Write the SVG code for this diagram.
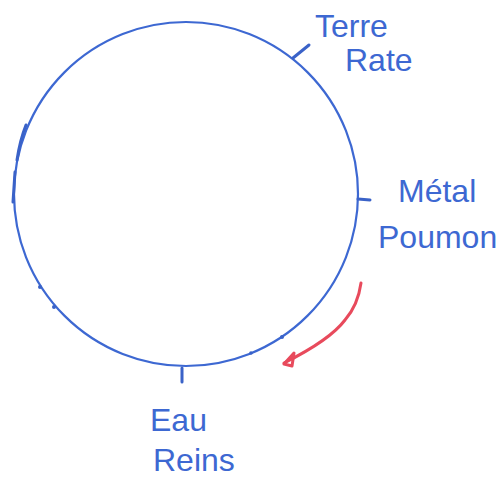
<svg xmlns="http://www.w3.org/2000/svg" width="503" height="480" viewBox="0 0 503 480">
<style>
.ink{fill:none;stroke:#3d68d2;stroke-width:2.2;stroke-linecap:round}
.tick{fill:none;stroke:#3a62c8;stroke-width:3;stroke-linecap:round}
.lbl{font-family:"Liberation Sans",Arial,sans-serif;font-size:32px;fill:#3d68d2}
.dot{fill:#3a62c8}
.red{fill:none;stroke:#e84a5c;stroke-width:3;stroke-linecap:round;stroke-linejoin:round}
</style>
<rect width="503" height="480" fill="#ffffff"/>
<g id="cycle">
<circle class="ink" cx="186" cy="194" r="172"/>
<path class="tick" d="M26 125 Q20 140 17 160"/>
<path class="tick" d="M15 172 L13 202"/>
<circle class="dot" cx="40" cy="287" r="2"/>
<circle class="dot" cx="54" cy="307" r="2"/>
<circle class="dot" cx="282" cy="337" r="2"/>
<circle class="dot" cx="251" cy="353" r="1.8"/>
</g>
<g id="terre">
<line class="tick" x1="293" y1="58" x2="309" y2="45"/>
<text class="lbl" x="315" y="37">Terre</text>
<text class="lbl" x="345" y="71">Rate</text>
</g>
<g id="metal">
<line class="tick" x1="358" y1="199" x2="370" y2="200"/>
<text class="lbl" x="398" y="202">Métal</text>
<text class="lbl" x="378" y="248">Poumon</text>
</g>
<g id="eau">
<line class="tick" x1="182" y1="368" x2="182" y2="382"/>
<text class="lbl" x="150" y="431">Eau</text>
<text class="lbl" x="153" y="471">Reins</text>
</g>
<g id="connectors">
<path class="red" d="M361 283 Q358 305 345 320 Q330 340 284 363"/>
<path class="red" d="M284 364 L294 353 L292 366 Z"/>
</g>
</svg>
